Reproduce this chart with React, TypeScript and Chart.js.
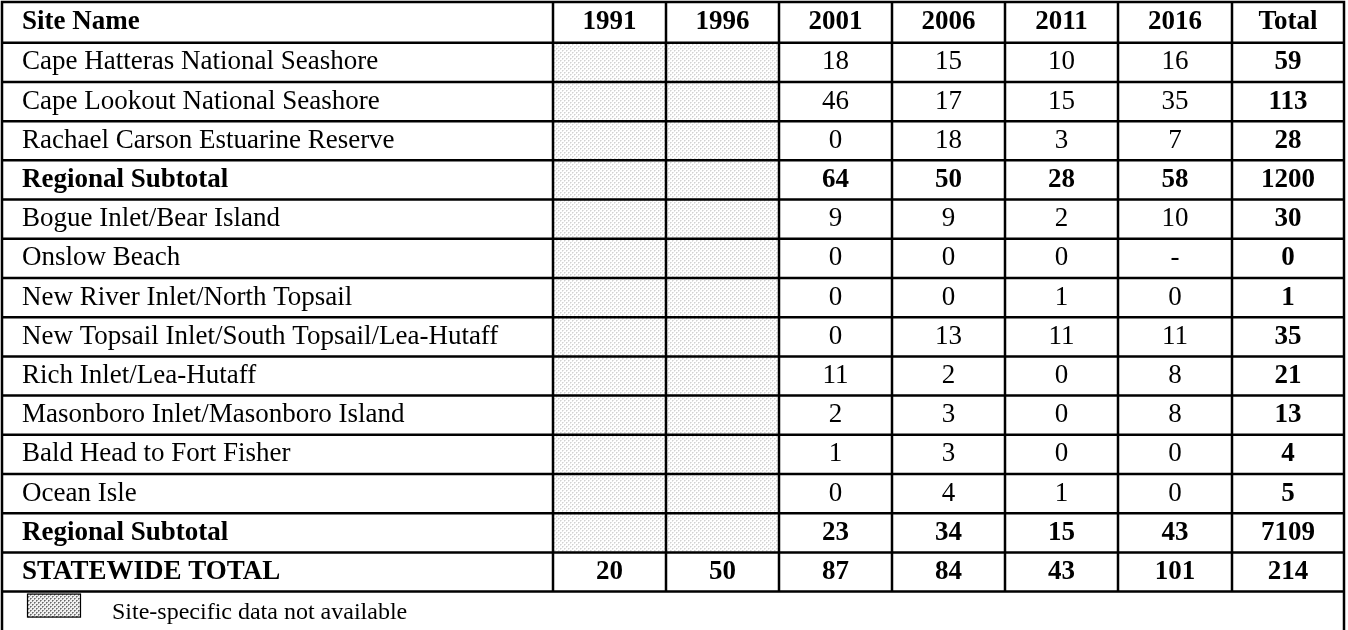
import React, { useEffect, useRef } from "react";
import { Chart, registerables } from "chart.js";

Chart.register(...registerables);

const headers = ["Site Name", "1991", "1996", "2001", "2006", "2011", "2016", "Total"];
const sites = [
  "Cape Hatteras National Seashore",
  "Cape Lookout National Seashore",
  "Rachael Carson Estuarine Reserve",
  "Regional Subtotal",
  "Bogue Inlet/Bear Island",
  "Onslow Beach",
  "New River Inlet/North Topsail",
  "New Topsail Inlet/South Topsail/Lea-Hutaff",
  "Rich Inlet/Lea-Hutaff",
  "Masonboro Inlet/Masonboro Island",
  "Bald Head to Fort Fisher",
  "Ocean Isle",
  "Regional Subtotal",
  "STATEWIDE TOTAL",
];
const v1991: (number | null)[] = [null, null, null, null, null, null, null, null, null, null, null, null, null, 20];
const v1996: (number | null)[] = [null, null, null, null, null, null, null, null, null, null, null, null, null, 50];
const v2001 = ["18", "46", "0", "64", "9", "0", "0", "0", "11", "2", "1", "0", "23", "87"];
const v2006 = ["15", "17", "18", "50", "9", "0", "0", "13", "2", "3", "3", "4", "34", "84"];
const v2011 = ["10", "15", "3", "28", "2", "0", "1", "11", "0", "0", "0", "1", "15", "43"];
const v2016 = ["16", "35", "7", "58", "10", "-", "0", "11", "8", "8", "0", "0", "43", "101"];
const totals = ["59", "113", "28", "1200", "30", "0", "1", "35", "21", "13", "4", "5", "7109", "214"];
const boldRows = [3, 12, 13];
const legendText = "Site-specific data not available";

// layout (scale units)
const colWidths = [551, 113, 113, 113, 113, 113, 114, 112];
const headerUnits = 1.04;
const rowUnits = 1;
const FONT = "'Liberation Serif', 'Times New Roman', serif";
const FS = 27;
const LFS = 24;

function makePattern(ctx: CanvasRenderingContext2D, dark: boolean) {
  const c = document.createElement("canvas");
  c.width = 4;
  c.height = 4;
  const p = c.getContext("2d")!;
  p.fillStyle = dark ? "#f0f0f0" : "#ffffff";
  p.fillRect(0, 0, 4, 4);
  p.fillStyle = dark ? "#6a6a6a" : "#d2d2d2";
  p.fillRect(0, 0, 1, 1);
  p.fillRect(2, 2, 1, 1);
  p.fillStyle = dark ? "#9a9a9a" : "#e6e6e6";
  p.fillRect(1, 0, 1, 1);
  p.fillRect(0, 1, 1, 1);
  p.fillRect(3, 2, 1, 1);
  p.fillRect(2, 3, 1, 1);
  return ctx.createPattern(c, "repeat")!;
}

const tablePlugin = {
  id: "tableDraw",
  afterDraw(chart: any) {
    const ctx: CanvasRenderingContext2D = chart.ctx;
    const xs = chart.scales.x;
    const ys = chart.scales.y;
    const colEdges: number[] = [0];
    colWidths.forEach((w) => colEdges.push(colEdges[colEdges.length - 1] + w));
    const X = colEdges.map((e) => xs.getPixelForValue(e));
    const rowEdges: number[] = [0, headerUnits];
    for (let i = 0; i < sites.length; i++) rowEdges.push(rowEdges[rowEdges.length - 1] + rowUnits);
    const Y = rowEdges.map((e) => ys.getPixelForValue(e));
    const legendBottom = ys.getPixelForValue(rowEdges[rowEdges.length - 1] + rowUnits);

    ctx.save();
    const pat = makePattern(ctx, false);
    [v1991, v1996].forEach((arr, ci) => {
      arr.forEach((v, ri) => {
        if (v === null) {
          ctx.fillStyle = pat;
          ctx.fillRect(X[ci + 1], Y[ri + 1], X[ci + 2] - X[ci + 1], Y[ri + 2] - Y[ri + 1]);
        }
      });
    });

    ctx.fillStyle = "#000";
    ctx.textBaseline = "middle";
    const cellText = (txt: string, ci: number, yTop: number, yBot: number, bold: boolean) => {
      ctx.font = `${bold ? "bold " : ""}${FS}px ${FONT}`;
      const yc = (yTop + yBot) / 2;
      if (ci === 0) {
        ctx.textAlign = "left";
        ctx.fillText(txt, X[0] + 20, yc);
      } else {
        ctx.textAlign = "center";
        ctx.fillText(txt, (X[ci] + X[ci + 1]) / 2, yc);
      }
    };
    headers.forEach((h, ci) => cellText(h, ci, Y[0], Y[1], true));
    sites.forEach((s, ri) => {
      const bold = boldRows.includes(ri);
      const yT = Y[ri + 1];
      const yB = Y[ri + 2];
      cellText(s, 0, yT, yB, bold);
      if (v1991[ri] !== null) cellText(String(v1991[ri]), 1, yT, yB, bold);
      if (v1996[ri] !== null) cellText(String(v1996[ri]), 2, yT, yB, bold);
      cellText(v2001[ri], 3, yT, yB, bold);
      cellText(v2006[ri], 4, yT, yB, bold);
      cellText(v2011[ri], 5, yT, yB, bold);
      cellText(v2016[ri], 6, yT, yB, bold);
      cellText(totals[ri], 7, yT, yB, true);
    });

    const lyT = Y[Y.length - 1];
    const dpat = makePattern(ctx, true);
    ctx.fillStyle = dpat;
    const sx = X[0] + 25;
    const sy = lyT + 2;
    ctx.fillRect(sx, sy, 54, 24);
    ctx.strokeStyle = "#000";
    ctx.lineWidth = 1.2;
    ctx.strokeRect(sx + 0.5, sy + 0.5, 53, 23);
    ctx.fillStyle = "#000";
    ctx.font = `${LFS}px ${FONT}`;
    ctx.textAlign = "left";
    ctx.textBaseline = "alphabetic";
    ctx.fillText(legendText, X[0] + 110, lyT + 27);

    ctx.strokeStyle = "#000";
    ctx.lineWidth = 2.5;
    ctx.beginPath();
    Y.forEach((y) => {
      ctx.moveTo(X[0] - 1.25, y);
      ctx.lineTo(X[X.length - 1] + 1.25, y);
    });
    X.forEach((x, i) => {
      const isOuter = i === 0 || i === X.length - 1;
      ctx.moveTo(x, Y[0]);
      ctx.lineTo(x, isOuter ? legendBottom + 10 : Y[Y.length - 1]);
    });
    ctx.stroke();
    ctx.restore();
  },
};

export default function App() {
  const ref = useRef<HTMLCanvasElement | null>(null);
  useEffect(() => {
    document.body.style.margin = "0";
    const totalX = colWidths.reduce((a, b) => a + b, 0);
    const totalY = headerUnits + rowUnits * (sites.length + 1);
    const chart = new Chart(ref.current!, {
      type: "scatter",
      data: { datasets: [{ data: [], pointRadius: 0 }] },
      options: {
        animation: false,
        responsive: false,
        events: [],
        layout: { padding: { left: 2, right: 4, top: 2, bottom: 0 } },
        plugins: { legend: { display: false }, tooltip: { enabled: false } },
        scales: {
          x: { type: "linear", min: 0, max: totalX, display: false },
          y: { type: "linear", min: 0, max: totalY - 0.02, reverse: true, display: false },
        },
      },
      plugins: [tablePlugin],
    });
    return () => chart.destroy();
  }, []);
  return (
    <div style={{ width: 1348, height: 630, background: "#fff" }}>
      <canvas ref={ref} width={1348} height={630} style={{ display: "block" }} />
    </div>
  );
}
